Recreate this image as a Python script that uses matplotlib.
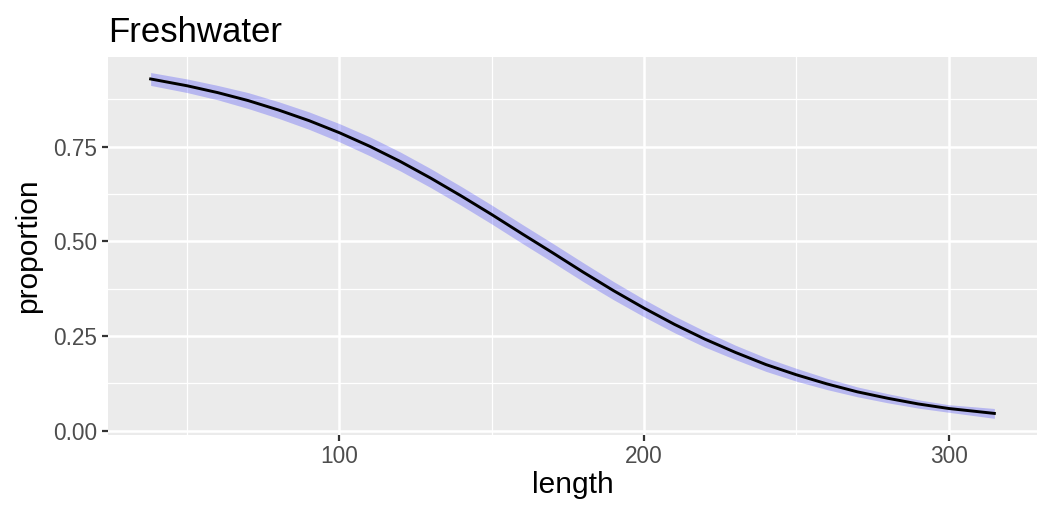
"""
Curva de proporción vs longitud (Freshwater), estilo ggplot.
Genera: out.png
"""

import matplotlib.pyplot as plt
import numpy as np

plt.rcParams['font.family'] = ['Liberation Sans', 'DejaVu Sans']

# ========== DATOS ==========
length = [38, 50, 60, 70, 80, 90, 100, 110, 120, 130, 140, 150, 160, 170,
          180, 190, 200, 210, 220, 230, 240, 250, 260, 270, 280, 290, 300, 315]
proportion = [0.929, 0.911, 0.893, 0.872, 0.847, 0.819, 0.787, 0.751, 0.711,
              0.667, 0.620, 0.571, 0.520, 0.470, 0.419, 0.370, 0.324, 0.281,
              0.242, 0.207, 0.175, 0.148, 0.124, 0.103, 0.086, 0.071, 0.059,
              0.046]
lower = [0.912, 0.893, 0.874, 0.851, 0.825, 0.796, 0.763, 0.726, 0.686,
         0.642, 0.595, 0.546, 0.495, 0.445, 0.394, 0.346, 0.301, 0.259,
         0.221, 0.188, 0.157, 0.131, 0.109, 0.090, 0.074, 0.060, 0.049,
         0.033]
upper = [0.946, 0.929, 0.912, 0.893, 0.869, 0.842, 0.811, 0.776, 0.736,
         0.692, 0.645, 0.596, 0.545, 0.495, 0.444, 0.394, 0.347, 0.303,
         0.263, 0.226, 0.193, 0.165, 0.139, 0.116, 0.098, 0.082, 0.069,
         0.059]

y_ticks = [0.00, 0.25, 0.50, 0.75]
y_minor = [0.125, 0.375, 0.625, 0.875]
x_ticks = [100, 200, 300]
x_minor = [50, 150, 250]

# ========== FIGURA ==========
fig = plt.figure(figsize=(10.38, 5.08), dpi=100)
ax = fig.add_axes([108 / 1038, 1 - 435 / 508, 929 / 1038, 378 / 508])
ax.set_facecolor('#EBEBEB')

# rejilla estilo ggplot
for v in x_minor:
    ax.axvline(v, color='white', linewidth=0.9, zorder=0)
for v in y_minor:
    ax.axhline(v, color='white', linewidth=0.9, zorder=0)
for v in x_ticks:
    ax.axvline(v, color='white', linewidth=1.8, zorder=0)
for v in y_ticks:
    ax.axhline(v, color='white', linewidth=1.8, zorder=0)

# banda de confianza y curva
ax.fill_between(length, lower, upper, color='blue', alpha=0.22,
                linewidth=0, zorder=2)
ax.plot(length, proportion, color='black', linewidth=2.1, zorder=3)

ax.set_xlim(24, 329)
ax.set_ylim(-0.011, 0.987)
ax.set_xticks(x_ticks)
ax.set_yticks(y_ticks)
ax.set_xticklabels([str(v) for v in x_ticks])
ax.set_yticklabels([f'{v:.2f}' for v in y_ticks])

for s in ax.spines.values():
    s.set_visible(False)
ax.tick_params(axis='both', colors='#333333', length=4.5, width=1.6,
               labelsize=16.3, labelcolor='#4D4D4D', pad=3)

ax.set_xlabel('length', fontsize=21.5, color='black', labelpad=2)
ax.set_ylabel('proportion', fontsize=21.5, color='black', labelpad=8)
ax.set_title('Freshwater', fontsize=25, loc='left', color='black', pad=11)
ax.title.set_position((-0.002, 1.0))

plt.savefig('out.png', dpi=100, facecolor='white')
